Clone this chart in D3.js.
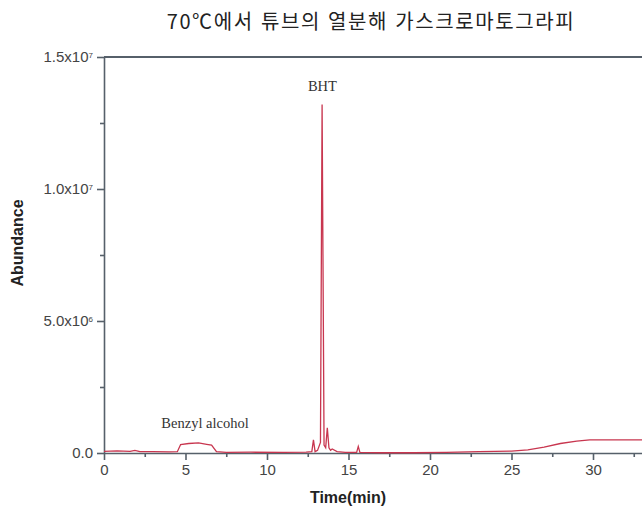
<html lang="ko">
<head>
    <meta charset="UTF-8">
    <title>70°C 열분해 가스크로마토그라피</title>
    <script src="https://cdnjs.cloudflare.com/ajax/libs/d3/7.8.5/d3.min.js"></script>
    <style type="text/css">
        body { margin: 0; background: #fff; }
        .tick text { fill: #444; font-size: 15px; font-family: "Liberation Sans", Arial, sans-serif; }
        .axis path, .axis line { stroke: #56606a; stroke-width: 1.6px; }
    </style>
</head>
<body>
    <div id="onlydiv"></div>
    <script type="text/javascript">

        // Data
        var timeMin = [0, 0.8, 1.6, 1.9, 2.2, 3, 4, 4.5, 4.7, 5.2, 5.8, 6.3, 6.6, 6.9, 7.5, 9, 11, 12.4,
            12.75, 12.85, 12.95, 13.1, 13.28, 13.38, 13.5, 13.6, 13.7, 13.8, 13.9, 14.0, 14.3, 14.8,
            15.5, 15.6, 15.7, 17, 19, 21, 23, 24, 25, 26, 27, 28, 29, 29.8, 31, 33, 35];
        var abundance = [0.06e6, 0.08e6, 0.06e6, 0.1e6, 0.05e6, 0.05e6, 0.04e6, 0.05e6, 0.32e6, 0.36e6, 0.38e6, 0.33e6, 0.3e6, 0.05e6, 0.02e6, 0.03e6, 0.02e6, 0.03e6,
            0.05e6, 0.5e6, 0.05e6, 0.1e6, 0.4e6, 13.2e6, 0.3e6, 0.2e6, 0.95e6, 0.2e6, 0.1e6, 0.15e6, 0.05e6, 0.02e6,
            0.02e6, 0.25e6, 0.02e6, 0.01e6, 0.01e6, 0.02e6, 0.05e6, 0.06e6, 0.07e6, 0.12e6, 0.22e6, 0.36e6, 0.45e6, 0.5e6, 0.5e6, 0.5e6, 0.5e6];

        var xTicks = [0, 5, 10, 15, 20, 25, 30];
        var xMinor = [2.5, 7.5, 12.5, 17.5, 22.5, 27.5, 32.5];
        var yTicks = [0, 5e6, 1e7, 1.5e7];
        var yMinor = [2.5e6, 7.5e6, 1.25e7];
        var yTickLabels = ["0.0", "5.0x10|6", "1.0x10|7", "1.5x10|7"];

        var peakLabels = [
            { name: "Benzyl alcohol", t: 6.2, a: 0.95e6 },
            { name: "BHT", t: 13.4, a: 13.7e6 }
        ];

        var titleText = "70℃에서 튜브의 열분해 가스크로마토그라피";

        var w = 642;
        var h = 512;
        var plotLeft = 104, plotTop = 57, plotBottom = 453;

        var svg = d3.select("#onlydiv")
        .append("svg")
        .attr("width", w)
        .attr("height", h);

        var xScale = d3.scaleLinear()
        .domain([0, 35])
        .range([plotLeft, plotLeft + 35 * 16.3]);

        var yScale = d3.scaleLinear()
        .domain([0, 1.5e7])
        .range([plotBottom, plotTop]);

        // Title
        svg.append("text")
        .attr("x", 371)
        .attr("y", 29)
        .attr("text-anchor", "middle")
        .style("font-family", "'Noto Sans CJK KR', sans-serif")
        .style("font-size", "20px")
        .style("letter-spacing", "1.6px")
        .attr("fill", "#222")
        .text(titleText);

        // Top frame line
        svg.append("line")
        .attr("x1", plotLeft).attr("x2", w)
        .attr("y1", plotTop).attr("y2", plotTop)
        .attr("stroke", "#56606a")
        .attr("stroke-width", 1.8);

        // Minor ticks
        svg.append("g")
        .attr("class", "axis")
        .attr("transform", "translate(0," + plotBottom + ")")
        .call(d3.axisBottom(xScale).tickValues(xMinor).tickSize(4).tickFormat(""))
        .select(".domain").remove();

        svg.append("g")
        .attr("class", "axis")
        .attr("transform", "translate(" + plotLeft + ",0)")
        .call(d3.axisLeft(yScale).tickValues(yMinor).tickSize(4).tickFormat(""))
        .select(".domain").remove();

        // Major axes
        var xAxis = d3.axisBottom(xScale)
        .tickValues(xTicks)
        .tickSize(7)
        .tickSizeOuter(0)
        .tickPadding(4);

        svg.append("g")
        .attr("class", "axis")
        .attr("transform", "translate(0," + plotBottom + ")")
        .call(xAxis);

        var yAxis = d3.axisLeft(yScale)
        .tickValues(yTicks)
        .tickSize(7)
        .tickSizeOuter(0)
        .tickPadding(3)
        .tickFormat("");

        var yG = svg.append("g")
        .attr("class", "axis")
        .attr("transform", "translate(" + plotLeft + ",0)")
        .call(yAxis);

        yG.selectAll(".tick").each(function(d, i) {
            var parts = yTickLabels[i].split("|");
            var t = d3.select(this).append("text")
            .attr("x", -11)
            .attr("dy", "0.32em")
            .attr("text-anchor", "end");
            t.append("tspan").text(parts[0]);
            if (parts.length > 1) {
                t.append("tspan")
                .style("font-size", "8px")
                .attr("dy", "-0.6em")
                .text(parts[1]);
            }
        });

        // Chromatogram line
        var line = d3.line()
        .x(function(d, i) { return xScale(timeMin[i]); })
        .y(function(d) { return yScale(d); });

        svg.append("path")
        .datum(abundance)
        .attr("d", line)
        .attr("fill", "none")
        .attr("stroke", "#c8364f")
        .attr("stroke-width", 1.3);

        // Peak labels
        svg.selectAll(".peak")
        .data(peakLabels)
        .enter()
        .append("text")
        .attr("class", "peak")
        .attr("x", function(d) { return xScale(d.t); })
        .attr("y", function(d) { return yScale(d.a); })
        .attr("text-anchor", "middle")
        .style("font-family", "'Liberation Serif', serif")
        .style("font-size", "14.5px")
        .attr("fill", "#333")
        .text(function(d) { return d.name; });

        // Axis labels
        svg.append("text")
        .attr("x", 348)
        .attr("y", 503)
        .attr("text-anchor", "middle")
        .style("font-family", "'Liberation Sans', Arial, sans-serif")
        .style("font-weight", "bold")
        .style("font-size", "16px")
        .attr("fill", "#222")
        .text("Time(min)");

        svg.append("text")
        .attr("transform", "translate(23,243) rotate(-90)")
        .attr("text-anchor", "middle")
        .style("font-family", "'Liberation Sans', Arial, sans-serif")
        .style("font-weight", "bold")
        .style("font-size", "16px")
        .attr("fill", "#222")
        .text("Abundance");

    </script>
</body>
</html>
